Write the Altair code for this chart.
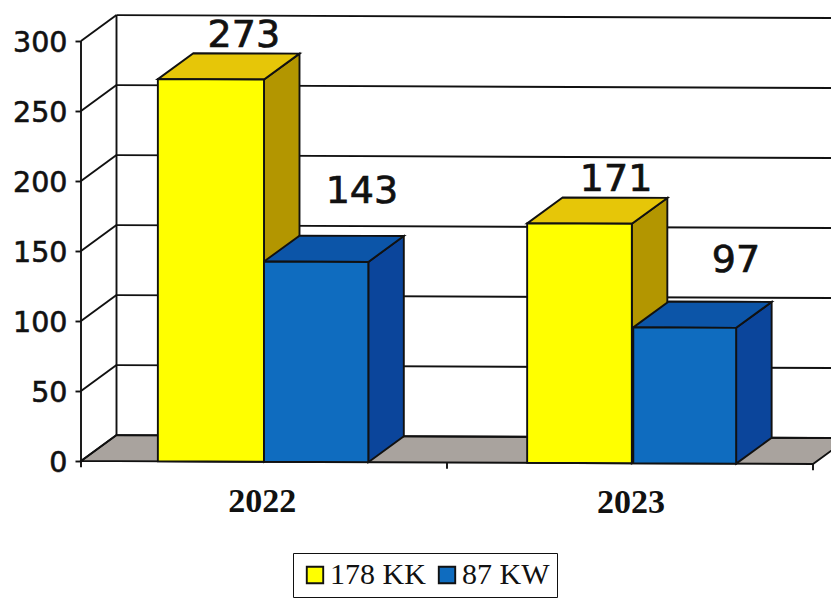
import altair as alt
import pandas as pd

# values
categories = ["2022", "2023"]
series = ["178 KK", "87 KW"]
values = {"178 KK": [273, 171], "87 KW": [143, 97]}
y_ticks = [0, 50, 100, 150, 200, 250, 300]

front_col = {"178 KK": "#FFFF00", "87 KW": "#0F6CBF"}
top_col = {"178 KK": "#E6C608", "87 KW": "#0C55A8"}
side_col = {"178 KK": "#B39600", "87 KW": "#0B459B"}
bar_span = {"178 KK": (0.21, 0.50), "87 KW": (0.50, 0.785)}
label_dx = {("2022", "178 KK"): 0.09, ("2022", "87 KW"): 0.125,
            ("2023", "178 KK"): 0.10, ("2023", "87 KW"): 0.14}
label_dy = {("2022", "178 KK"): 31, ("2022", "87 KW"): 50,
            ("2023", "178 KK"): 31, ("2023", "87 KW"): 47.5}

DX, DY, TILT = 0.097, 18.6, 1.05
PX_X, PX_Y = 366.0, 1.4
XDOM = [-73 / PX_X, 750 / PX_X]
YDOM = [-(598 - 461) / PX_Y, (461 - 8) / PX_Y]
INK = "#111111"
LW = 1.9


def sh(x, y):
    return y - TILT * x


def poly(face, pts, **extra):
    return [dict(face=face, x=x, y=sh(x, a), y2=sh(x, b), **extra) for x, a, b in pts]


def box(x0, x1, v):
    side = [(x1, 0, v), (x1 + DX, DY, v + DY)]
    top = [(x0, v, v), (x0 + DX, v, v + DY), (x1, v, v + DY), (x1 + DX, v + DY, v + DY)]
    front = [(x0, 0, v), (x1, 0, v)]
    return side, top, front


sides, tops, fronts, labels = [], [], [], []
for g, cat in enumerate(categories):
    for s in series:
        a, b = bar_span[s]
        x0, x1 = g + a + (0.009 if g else 0), g + b + (0.005 if g else 0)
        v = values[s][g]
        sd, tp, fr = box(x0, x1, v)
        key = f"{cat}-{s}"
        sides += poly(key, sd, fill=side_col[s])
        tops += poly(key, tp, fill=top_col[s])
        fronts += poly(key, fr, series=s)
        xc = (x0 + x1) / 2 + label_dx[(cat, s)]
        labels.append(dict(x=xc, y=sh(xc, v + label_dy[(cat, s)]), text=str(v)))

N = len(categories)
floor = poly("floor", [(0, 0, 0), (DX, 0, DY), (N, 0, DY), (N + DX, DY, DY)])

lines = []
for i, t in enumerate(y_ticks):
    lines += [dict(id=f"g{i}", x=DX, y=sh(DX, t + DY)), dict(id=f"g{i}", x=N + DX, y=sh(N + DX, t + DY))]
    lines += [dict(id=f"d{i}", x=0, y=sh(0, t)), dict(id=f"d{i}", x=DX, y=sh(DX, t + DY))]
lines += [dict(id="v0", x=0, y=-4.5), dict(id="v0", x=0, y=y_ticks[-1])]
lines += [dict(id="v1", x=DX, y=sh(DX, DY)), dict(id="v1", x=DX, y=sh(DX, y_ticks[-1] + DY))]
for k in range(1, N + 1):
    lines += [dict(id=f"t{k}", x=k, y=sh(k, 0)), dict(id=f"t{k}", x=k, y=sh(k, -4.5))]

cat_labels = [dict(x=g + 0.495 + 0.008 * g, y=sh(g + 0.5, -28.6), text=c) for g, c in enumerate(categories)]
tick_labels = [dict(x=-0.037, y=t - 1.4, text=str(t)) for t in y_ticks]

xs = alt.Scale(domain=XDOM, nice=False, zero=False)
ys = alt.Scale(domain=YDOM, nice=False, zero=False)
X = alt.X("x:Q", scale=xs, axis=None)
Y = alt.Y("y:Q", scale=ys, stack=None, axis=alt.Axis(
    values=y_ticks, title=None, grid=False, domain=False, labels=False, offset=-73, tickColor=INK,
    tickSize=6, tickWidth=LW))


def area(rows, enc):
    return alt.Chart(pd.DataFrame(rows)).mark_area(stroke=INK, strokeWidth=LW, clip=True, opacity=1,
                                                   interpolate="linear").encode(
        x=X, y=Y, y2="y2:Q", detail="face:N", **enc)


floor_l = area(floor, dict(fill=alt.value("#A9A39E")))
line_l = alt.Chart(pd.DataFrame(lines)).mark_line(color=INK, strokeWidth=LW, clip=True).encode(
    x=X, y=Y, detail="id:N")
side_l = area(sides, dict(fill=alt.Fill("fill:N", scale=None)))
top_l = area(tops, dict(fill=alt.Fill("fill:N", scale=None)))
front_l = area(fronts, dict(fill=alt.Fill(
    "series:N",
    scale=alt.Scale(domain=series, range=[front_col[s] for s in series]),
    legend=alt.Legend(
        title=None, orient="none", legendX=285, legendY=545, direction="horizontal", columns=2,
        strokeColor=INK, padding=7, symbolType="square", symbolSize=270, symbolStrokeColor=INK,
        symbolStrokeWidth=LW, labelFont="Liberation Serif", labelFontSize=30, labelColor=INK,
        labelOffset=0, columnPadding=6, symbolOpacity=1, labelLimit=200))))
val_l = alt.Chart(pd.DataFrame(labels)).mark_text(
    font="DejaVu Sans", fontSize=38, color=INK, stroke=INK, strokeWidth=0.7).encode(x=X, y=Y, text="text:N")
tick_l = alt.Chart(pd.DataFrame(tick_labels)).mark_text(
    font="DejaVu Sans", fontSize=28.5, color=INK, stroke=INK, strokeWidth=0.6, align="right").encode(
    x=X, y=Y, text="text:N")
cat_l = alt.Chart(pd.DataFrame(cat_labels)).mark_text(
    font="Liberation Serif", fontWeight="bold", fontSize=34, color=INK).encode(x=X, y=Y, text="text:N")

chart = alt.layer(floor_l, line_l, side_l, top_l, front_l, val_l, tick_l, cat_l).properties(
    width=823, height=590, padding=0, autosize=alt.AutoSizeParams(type="none"),
).configure_view(stroke=None)

chart.save("out.html", embed_options={"renderer": "svg", "actions": False})
